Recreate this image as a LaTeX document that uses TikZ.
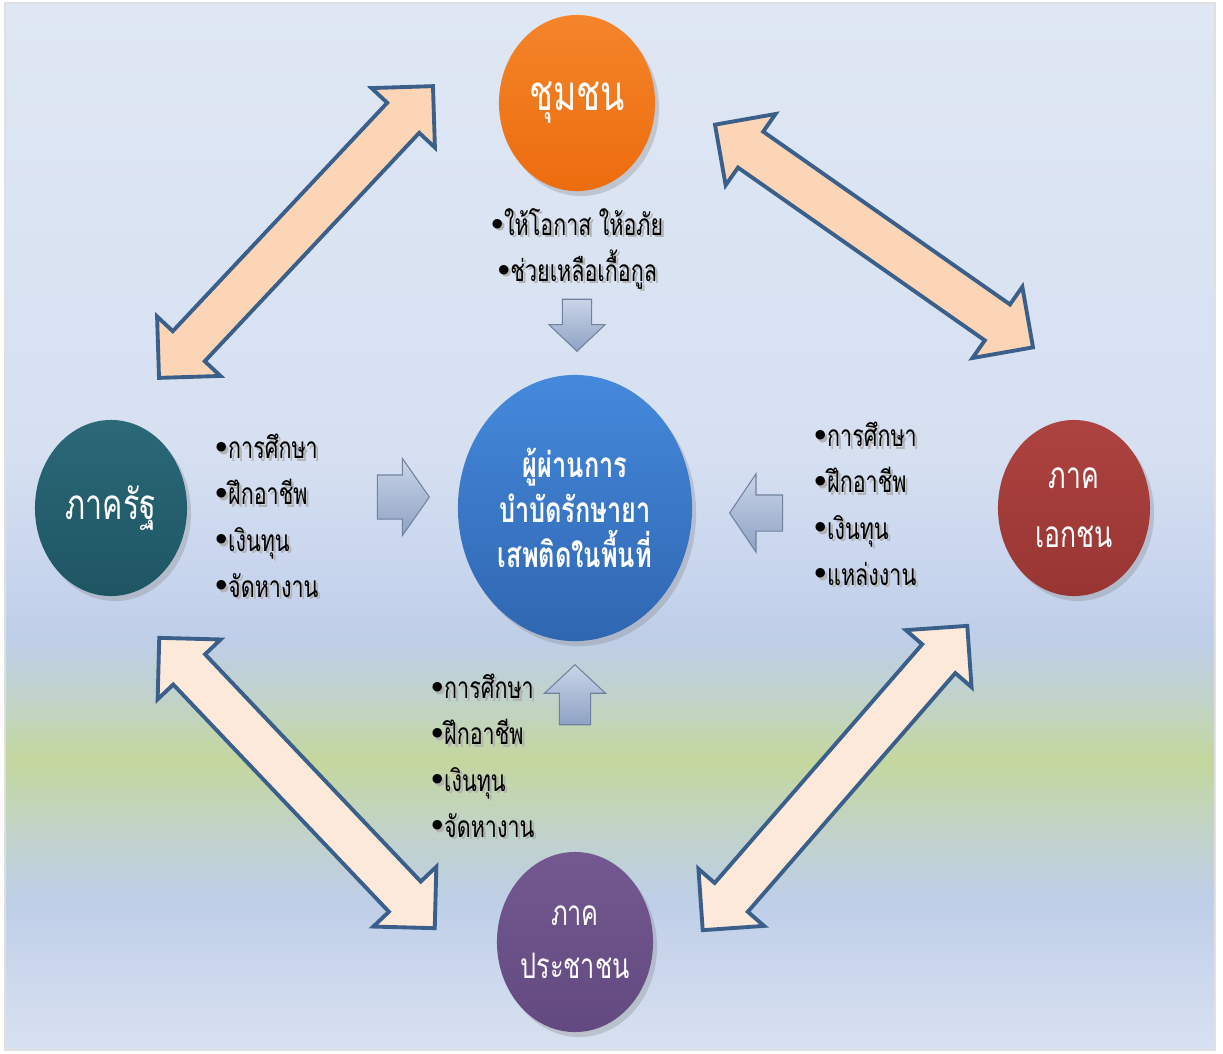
\documentclass[tikz,border=0pt]{standalone}
\usepackage{fontspec}
\newfontfamily\thaifont[Script=Thai,FakeStretch=0.72]{Loma}
\usetikzlibrary{shapes.geometric,shapes.arrows,shadows}

\definecolor{bgtop}{HTML}{DFE7F4}
\definecolor{bgpale}{HTML}{D6E0F1}
\definecolor{bglight}{HTML}{C9D6EE}
\definecolor{bgblue}{HTML}{BFCEE8}
\definecolor{bgmid}{HTML}{C1D3C8}
\definecolor{bggreen}{HTML}{C4D79D}
\definecolor{bgbot}{HTML}{D8E1F0}
\definecolor{edge}{HTML}{3A5F8A}
\definecolor{peach}{HTML}{FBD5B5}
\definecolor{cream}{HTML}{FDE9D9}
\definecolor{orangeA}{HTML}{F5842A}
\definecolor{orangeB}{HTML}{EC6D0E}
\definecolor{blueA}{HTML}{4589DC}
\definecolor{blueB}{HTML}{2F66B0}
\definecolor{tealA}{HTML}{2B6878}
\definecolor{tealB}{HTML}{1E5563}
\definecolor{redA}{HTML}{AD4340}
\definecolor{redB}{HTML}{983533}
\definecolor{purpA}{HTML}{73598F}
\definecolor{purpB}{HTML}{624980}
\definecolor{arrA}{HTML}{C9D5E8}
\definecolor{arrB}{HTML}{8EA2C4}

\newcommand\blt{\raisebox{.4ex}{$\scriptstyle\bullet$}}
\newcommand\shd[1]{\makebox[0pt][l]{\hspace{.7pt}\raisebox{-.7pt}{\color{black!30}\blt#1}}\blt#1}

\begin{document}
\begin{tikzpicture}[x=0.01cm,y=-0.01cm,
  circ/.style={ellipse,inner sep=0pt,text=white,align=center,
    drop shadow={opacity=.3,shadow xshift=.04cm,shadow yshift=-.05cm}},
  bigarrow/.style={double arrow,draw=edge,line width=1.1pt,inner xsep=0pt,inner ysep=.2cm,
    double arrow head extend=.215cm,double arrow tip angle=90,minimum height=4cm},
  smallarrow/.style={single arrow,draw=arrB!80!black,line width=.3pt,top color=arrA,
    bottom color=arrB,inner xsep=0pt,anchor=tip},
  blist/.style={align=left,inner sep=0pt,
    font=\thaifont\fontsize{8.5}{13.1}\selectfont}]
\useasboundingbox (0,0) rectangle (1223,1053);
% background bands
\fill[top color=bgtop,bottom color=bgpale]     (5,3)   rectangle (1215,451);
\fill[top color=bgpale,bottom color=bglight]   (5,450) rectangle (1215,561);
\fill[top color=bglight,bottom color=bgblue]   (5,560) rectangle (1215,641);
\fill[top color=bgblue,bottom color=bgmid]     (5,640) rectangle (1215,701);
\fill[top color=bgmid,bottom color=bggreen]    (5,700) rectangle (1215,761);
\fill[top color=bggreen,bottom color=bgmid]    (5,760) rectangle (1215,831);
\fill[top color=bgmid,bottom color=bgblue]     (5,830) rectangle (1215,901);
\fill[top color=bgblue,bottom color=bgbot]     (5,900) rectangle (1215,1050);
\draw[black!12] (5,3) rectangle (1215,1050);

% big two-way arrows
\node[bigarrow,fill=peach,rotate=46.8]  (a1) at (296,232) {};
\node[bigarrow,fill=peach,rotate=-35,minimum height=3.88cm] (a2) at (874,236) {};
\node[bigarrow,fill=cream,rotate=-46.5] (a3) at (297,783) {};
\node[bigarrow,fill=cream,rotate=49,minimum height=4.03cm]  (a4) at (835,778) {};

% sectors
\node[circ,minimum width=1.56cm,minimum height=1.76cm,top color=orangeA,bottom color=orangeB,
  font=\thaifont\fontsize{14}{15}\selectfont] (chumchon) at (577,103) {\raisebox{-.12cm}{ชุมชน}};
\node[circ,minimum width=1.52cm,minimum height=1.76cm,top color=tealA,bottom color=tealB,
  font=\thaifont\fontsize{12}{15}\selectfont] (rat) at (111,508) {ภาครัฐ};
\node[circ,minimum width=1.52cm,minimum height=1.76cm,top color=redA,bottom color=redB,
  font=\thaifont\fontsize{10.5}{16.8}\selectfont] (ekachon) at (1074,508) {ภาค\\เอกชน};
\node[circ,minimum width=1.56cm,minimum height=1.80cm,top color=purpA,bottom color=purpB,
  font=\thaifont\fontsize{10}{15}\selectfont] (prachachon) at (575,942) {ภาค\\ประชาชน};
\node[circ,minimum width=2.34cm,minimum height=2.66cm,top color=blueA,bottom color=blueB,
  font=\thaifont\bfseries\fontsize{10}{12.8}\selectfont] (center) at (575,508)
  {ผู้ผ่านการ\\บำบัดรักษายา\\เสพติดในพื้นที่};

% support lists
\node[blist,align=center] (ltop) at (577,250)
  {\shd{ให้โอกาส ให้อภัย}\\\shd{ช่วยเหลือเกื้อกูล}};
\node[blist,anchor=west] (lleft) at (214,517)
  {\shd{การศึกษา}\\\shd{ฝึกอาชีพ}\\\shd{เงินทุน}\\\shd{จัดหางาน}};
\node[blist,anchor=west] (lright) at (813,505)
  {\shd{การศึกษา}\\\shd{ฝึกอาชีพ}\\\shd{เงินทุน}\\\shd{แหล่งงาน}};
\node[blist,anchor=west] (lbottom) at (430,757)
  {\shd{การศึกษา}\\\shd{ฝึกอาชีพ}\\\shd{เงินทุน}\\\shd{จัดหางาน}};

% small arrows into the centre
\node[smallarrow,rotate=-90,inner ysep=.14cm,single arrow head extend=.135cm,
  single arrow tip angle=93,minimum height=.52cm] (sdown) at (577,352) {};
\node[smallarrow,inner ysep=.215cm,single arrow head extend=.165cm,
  single arrow tip angle=110,minimum height=.52cm] (sright) at (430,497) {};
\node[smallarrow,rotate=180,inner ysep=.175cm,single arrow head extend=.21cm,
  single arrow tip angle=112,minimum height=.53cm] (sleft) at (729,513) {};
\node[smallarrow,rotate=90,inner ysep=.15cm,single arrow head extend=.15cm,
  single arrow tip angle=94,minimum height=.60cm] (sup) at (575,664) {};
\end{tikzpicture}
\end{document}
